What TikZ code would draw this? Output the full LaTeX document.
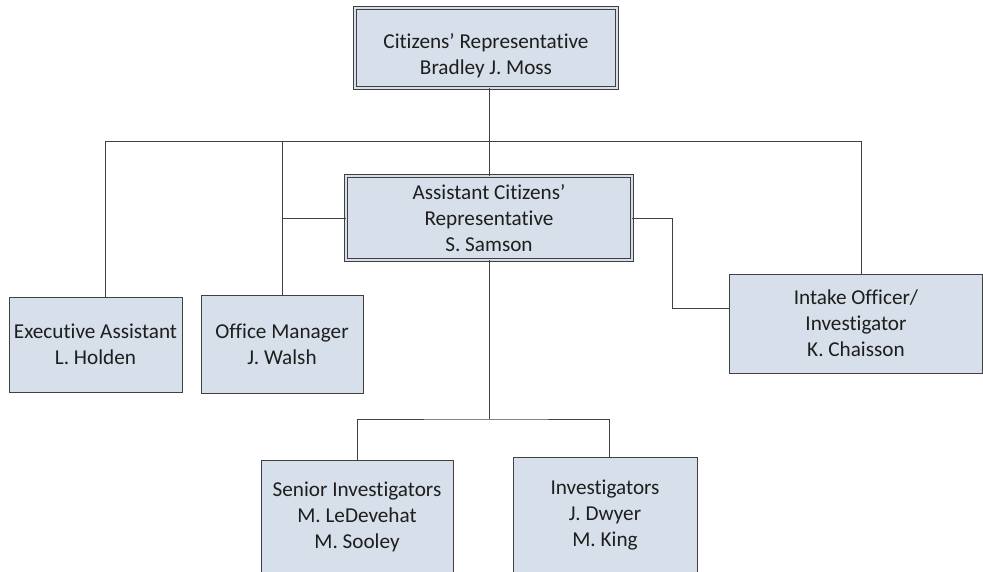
\documentclass[tikz,border=0pt]{standalone}
\usepackage{fontspec}
\setmainfont{Carlito}[Ligatures=NoCommon]
\definecolor{boxfill}{HTML}{D6DFEA}
\definecolor{linegray}{HTML}{404040}
\definecolor{textgray}{HTML}{1E1E1E}
\tikzset{
  post/.style={draw=linegray, fill=boxfill, line width=0.9pt, align=center,
    inner sep=2pt, text=textgray, font=\fontsize{21.2}{25.8}\selectfont},
  headpost/.style={post, double=boxfill, double distance=2.6pt, line width=0.8pt},
  wire/.style={draw=linegray, line width=0.9pt}
}
\begin{document}
\begin{tikzpicture}[x=1pt, y=-1pt]
\useasboundingbox (0,0) rectangle (983,571);
\clip (0,0) rectangle (983,571);

\node[headpost, minimum width=262pt, minimum height=80pt] (cr) at (486,48)
  {\rule{0pt}{31pt}Citizens’ Representative\\Bradley J. Moss};
\node[headpost, minimum width=286pt, minimum height=84pt] (ac) at (489,218)
  {Assistant Citizens’\\Representative\\S. Samson};

\node[post, minimum width=173pt, minimum height=95pt] (ea) at (95.5,344.5)
  {Executive Assistant\\L. Holden};
\node[post, minimum width=162pt, minimum height=98pt] (om) at (282,344)
  {Office Manager\\J. Walsh};
\node[post, minimum width=253pt, minimum height=99pt] (io) at (856,323.5)
  {Intake Officer/\\Investigator\\K. Chaisson};

\node[post, minimum width=192pt, minimum height=114pt] (si) at (357,517)
  {Senior Investigators\\M. LeDevehat\\M. Sooley};
\node[post, minimum width=184pt, minimum height=116pt] (inv) at (605,515)
  {Investigators\\J. Dwyer\\M. King};

\coordinate (bus) at (0,141);
\coordinate (bend) at (672,308);
\coordinate (split) at (489,419);

% top level
\draw[wire] (cr.south -| ac.north) -- (ac.north);
\draw[wire] ([xshift=10pt]ea.north) -- ([xshift=10pt]ea.north |- bus)
  -- ([xshift=5pt]io.north |- bus) -- ([xshift=5pt]io.north);
\draw[wire] (om.north) -- (om.north |- bus);
\draw[wire] (om.north |- ac.west) -- (ac.west);

% under the assistant
\draw[wire] (ac.east) -| (bend) -- (bend -| io.west);
\draw[wire] (ac.south) -- (split);
\draw[wire] (si.north) |- (split) -| ([xshift=4pt]inv.north);
\end{tikzpicture}
\end{document}
